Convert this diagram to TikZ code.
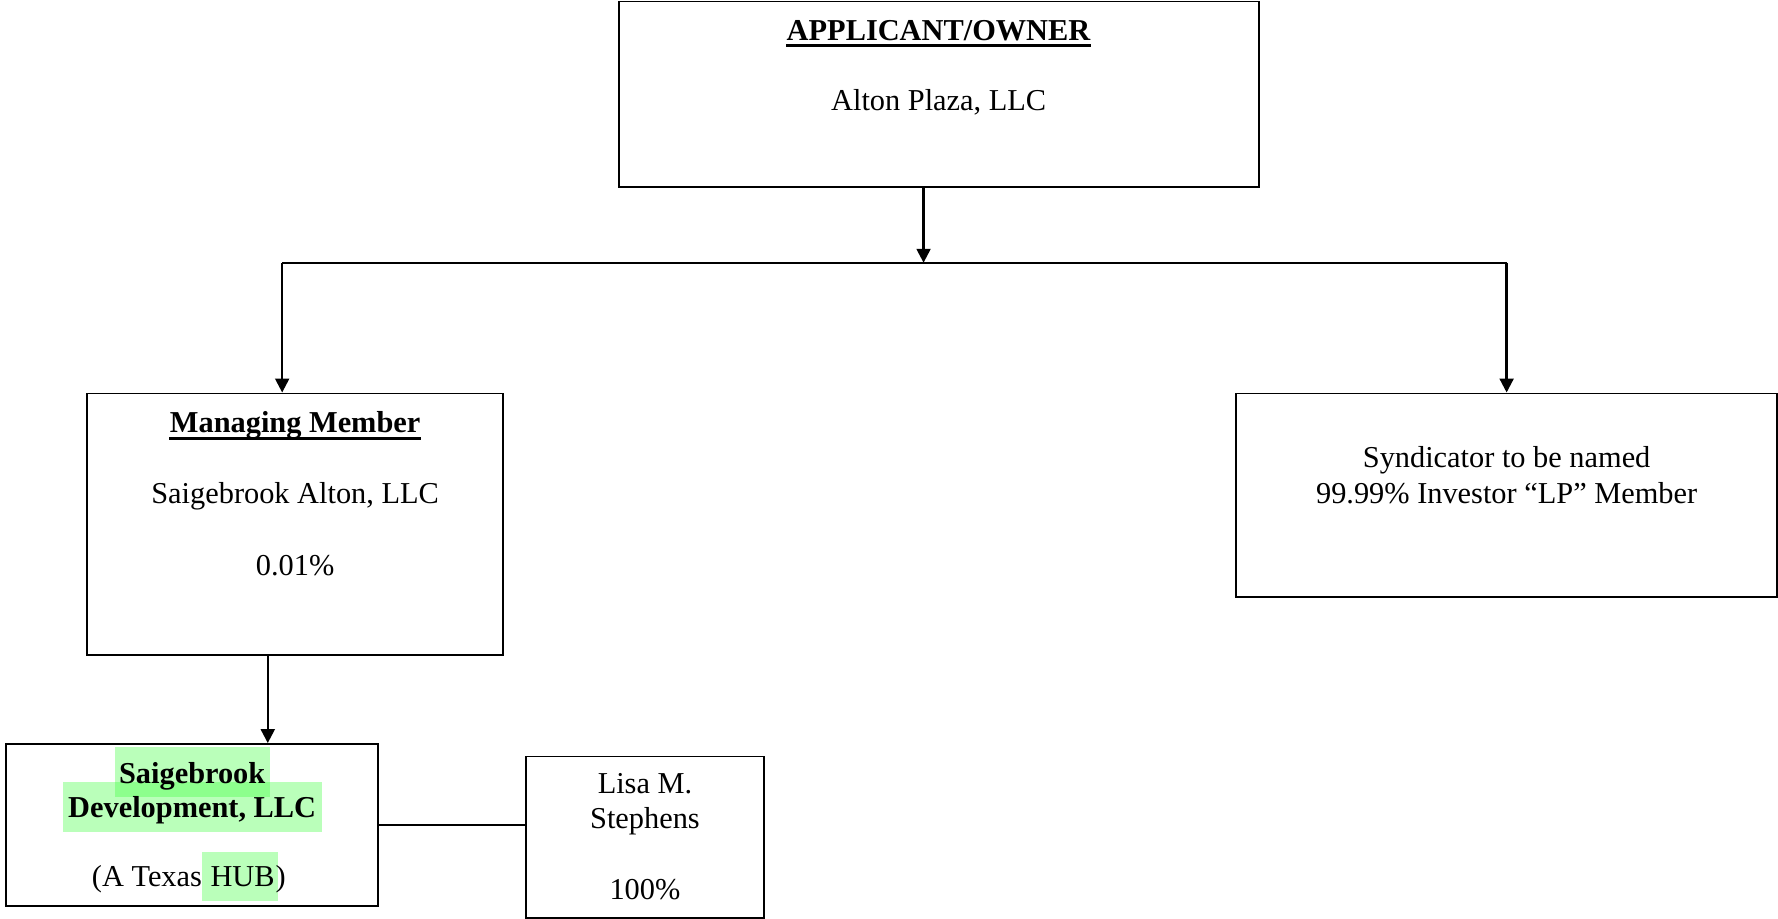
\documentclass[tikz,border=0pt]{standalone}
\usepackage{fontspec}
\setmainfont{Liberation Serif}
\usepackage{tikz}
\usetikzlibrary{arrows.meta}
\usetikzlibrary{backgrounds}

\definecolor{hlgreen}{RGB}{54,255,54}
\tikzset{
  box/.style={draw,line width=0.7pt,inner sep=0pt},
  link/.style={line width=0.9pt},
  txt/.style={anchor=base,inner sep=0pt},
  hl/.style={fill=hlgreen,fill opacity=0.34},
  uline/.style={line width=1.2pt},
}

\begin{document}
\begin{tikzpicture}[font=\fontsize{12}{13.8}\selectfont,>={Triangle[length=5.5pt,width=5.5pt]}]
\useasboundingbox (0,0) rectangle (24.70,-12.765);

% boxes
\node[box,minimum width=8.89cm,minimum height=2.58cm](owner)at(13.04,-1.31){};
\node[box,minimum width=5.78cm,minimum height=3.63cm](manager)at(4.10,-7.28){};
\node[box,minimum width=7.51cm,minimum height=2.83cm](investor)at(20.93,-6.88){};
\node[box,minimum width=5.17cm,minimum height=2.25cm](developer)at(2.67,-11.46){};
\node[box,minimum width=3.30cm,minimum height=2.24cm](lisa)at(8.96,-11.63){};

% texts
\node[txt](ownerT)at(13.04,-0.556){\textbf{APPLICANT/OWNER}};
\node[txt](ownerN)at(13.04,-1.53){Alton Plaza, LLC};

\node[txt](managerT)at(4.10,-6.01){\textbf{Managing Member}};
\node[txt](managerN)at(4.10,-6.99){Saigebrook Alton, LLC};
\node[txt](managerP)at(4.10,-7.99){0.01\%};

\node[txt](investorA)at(20.93,-6.50){Syndicator to be named};
\node[txt](investorB)at(20.93,-6.99){99.99\% Investor “LP” Member};

\node[txt](developerA)at(2.67,-10.88){\textbf{Saigebrook}};
\node[txt](developerB)at(2.67,-11.35){\textbf{Development, LLC}};
\node[txt](hub)at(3.37,-12.32){HUB};
\node[txt,anchor=base east](developerC)at([xshift=-3pt]hub.base west){(A Texas};
\node[txt,anchor=base west](developerD)at(hub.base east){)};

\node[txt](lisaA)at(8.96,-11.03){Lisa M.};
\node[txt](lisaB)at(8.96,-11.51){Stephens};
\node[txt](lisaP)at(8.96,-12.49){100\%};

% underlined titles
\draw[uline]([yshift=-2.3pt]ownerT.base west)--([yshift=-2.3pt]ownerT.base east);
\draw[uline]([yshift=-2.3pt]managerT.base west)--([yshift=-2.3pt]managerT.base east);

% highlighted words
\begin{scope}[on background layer]
\fill[hl]([shift={(-1.5pt,14.5pt)}]developerA.base west)rectangle([shift={(1.5pt,-5.5pt)}]developerA.base east);
\fill[hl]([shift={(-2pt,14pt)}]developerB.base west)rectangle([shift={(2pt,-6pt)}]developerB.base east);
\fill[hl]([shift={(-3pt,13.8pt)}]hub.base west)rectangle([shift={(1pt,-5.5pt)}]hub.base east);
\end{scope}

% connectors
\coordinate(bus)at(12.83,-3.65);
\coordinate(busL)at(3.92,-3.65);
\coordinate(busR)at(20.93,-3.65);
\coordinate(drop)at(3.72,-9.5);
\draw[link,->](owner.south -| bus)--(bus);
\draw[link](busL)--(busR);
\draw[link,->](busL)--(busL |- manager.north);
\draw[link,->](busR)--(investor.north);
\draw[link,->](drop |- manager.south)--(drop |- developer.north);
\draw[link](developer.east)--(lisa.west |- developer.east);

\end{tikzpicture}
\end{document}
